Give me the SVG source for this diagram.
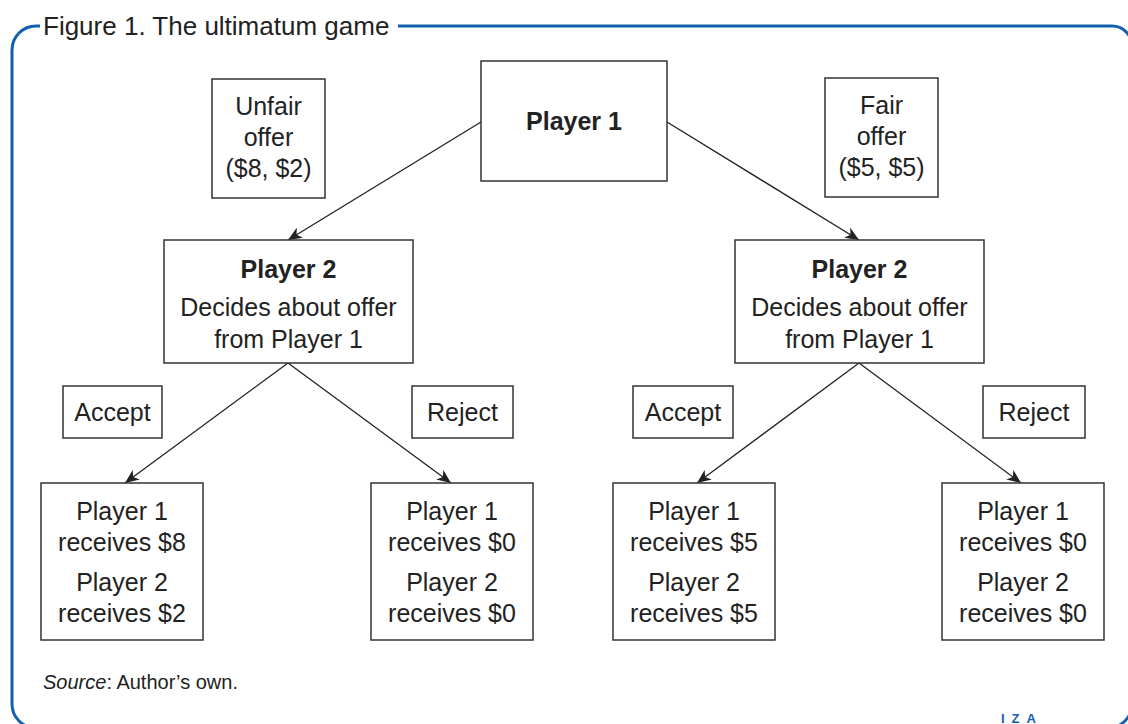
<svg xmlns="http://www.w3.org/2000/svg" width="1128" height="724" viewBox="0 0 1128 724">
<style>
.box{fill:#fff;stroke:#333;stroke-width:1.5}
.t{font-family:"Liberation Sans",Arial,sans-serif;font-size:25px;fill:#222;text-anchor:middle}
.b{font-weight:bold}
.c{stroke:#222;stroke-width:1.3;fill:none}
</style>
<defs>
<marker id="ah" markerUnits="userSpaceOnUse" markerWidth="16" markerHeight="12" refX="14" refY="6" orient="auto">
<path d="M0,0 L14,6 L0,12 L4,6 Z" fill="#222"/>
</marker>
</defs>
<rect width="1128" height="724" fill="#fff"/>
<g id="frame">
<path d="M398 26 H1112 A20 20 0 0 1 1132 46 V704 A24 24 0 0 1 1108 728 H36 A24 24 0 0 1 12 704 V50 A24 24 0 0 1 36 26 H40" fill="none" stroke="#1560ad" stroke-width="3"/>
<text x="43" y="35" font-family="Liberation Sans,Arial,sans-serif" font-size="26" fill="#222">Figure 1. The ultimatum game</text>
</g>
<g id="connectors">
<line class="c" x1="481" y1="122" x2="288" y2="240" marker-end="url(#ah)"/>
<line class="c" x1="667" y1="122" x2="859" y2="240" marker-end="url(#ah)"/>
<line class="c" x1="288" y1="363" x2="125" y2="483" marker-end="url(#ah)"/>
<line class="c" x1="288" y1="363" x2="451" y2="483" marker-end="url(#ah)"/>
<line class="c" x1="859" y1="363" x2="697" y2="483" marker-end="url(#ah)"/>
<line class="c" x1="859" y1="363" x2="1021" y2="483" marker-end="url(#ah)"/>
</g>
<g id="player1">
<rect class="box" x="481" y="61" width="186" height="120"/>
<text class="t b" x="574" y="130">Player 1</text>
</g>
<g id="unfair">
<rect class="box" x="212" y="79" width="113" height="119"/>
<text class="t" x="268.5" y="115">Unfair</text>
<text class="t" x="268.5" y="146">offer</text>
<text class="t" x="268.5" y="177">($8, $2)</text>
</g>
<g id="fair">
<rect class="box" x="825" y="78" width="113" height="119"/>
<text class="t" x="881.5" y="114">Fair</text>
<text class="t" x="881.5" y="145">offer</text>
<text class="t" x="881.5" y="176">($5, $5)</text>
</g>
<g id="player2-left">
<rect class="box" x="164" y="240" width="249" height="123"/>
<text class="t b" x="288.5" y="278">Player 2</text>
<text class="t" x="288.5" y="316">Decides about offer</text>
<text class="t" x="288.5" y="348">from Player 1</text>
</g>
<g id="player2-right">
<rect class="box" x="735" y="240" width="249" height="123"/>
<text class="t b" x="859.5" y="278">Player 2</text>
<text class="t" x="859.5" y="316">Decides about offer</text>
<text class="t" x="859.5" y="348">from Player 1</text>
</g>
<g id="accept-left">
<rect class="box" x="63" y="386" width="99" height="52"/>
<text class="t" x="112.5" y="421">Accept</text>
</g>
<g id="reject-left">
<rect class="box" x="412" y="386" width="101" height="52"/>
<text class="t" x="462.5" y="421">Reject</text>
</g>
<g id="accept-right">
<rect class="box" x="633" y="386" width="100" height="52"/>
<text class="t" x="683" y="421">Accept</text>
</g>
<g id="reject-right">
<rect class="box" x="983" y="386" width="102" height="52"/>
<text class="t" x="1034" y="421">Reject</text>
</g>
<g id="leaf1">
<rect class="box" x="41" y="483" width="162" height="157"/>
<text class="t" x="122" y="520">Player 1</text>
<text class="t" x="122" y="551">receives $8</text>
<text class="t" x="122" y="591">Player 2</text>
<text class="t" x="122" y="622">receives $2</text>
</g>
<g id="leaf2">
<rect class="box" x="371" y="483" width="162" height="157"/>
<text class="t" x="452" y="520">Player 1</text>
<text class="t" x="452" y="551">receives $0</text>
<text class="t" x="452" y="591">Player 2</text>
<text class="t" x="452" y="622">receives $0</text>
</g>
<g id="leaf3">
<rect class="box" x="613" y="483" width="162" height="157"/>
<text class="t" x="694" y="520">Player 1</text>
<text class="t" x="694" y="551">receives $5</text>
<text class="t" x="694" y="591">Player 2</text>
<text class="t" x="694" y="622">receives $5</text>
</g>
<g id="leaf4">
<rect class="box" x="942" y="483" width="162" height="157"/>
<text class="t" x="1023" y="520">Player 1</text>
<text class="t" x="1023" y="551">receives $0</text>
<text class="t" x="1023" y="591">Player 2</text>
<text class="t" x="1023" y="622">receives $0</text>
</g>
<g id="source">
<text x="43" y="689" font-family="Liberation Sans,Arial,sans-serif" font-size="20" fill="#222"><tspan font-style="italic">Source</tspan>: Author’s own.</text>
</g>
<g id="logo">
<text x="1001" y="723" font-family="Liberation Sans,Arial,sans-serif" font-size="13" font-weight="bold" fill="#1560ad" letter-spacing="7">IZA</text>
</g>
</svg>
